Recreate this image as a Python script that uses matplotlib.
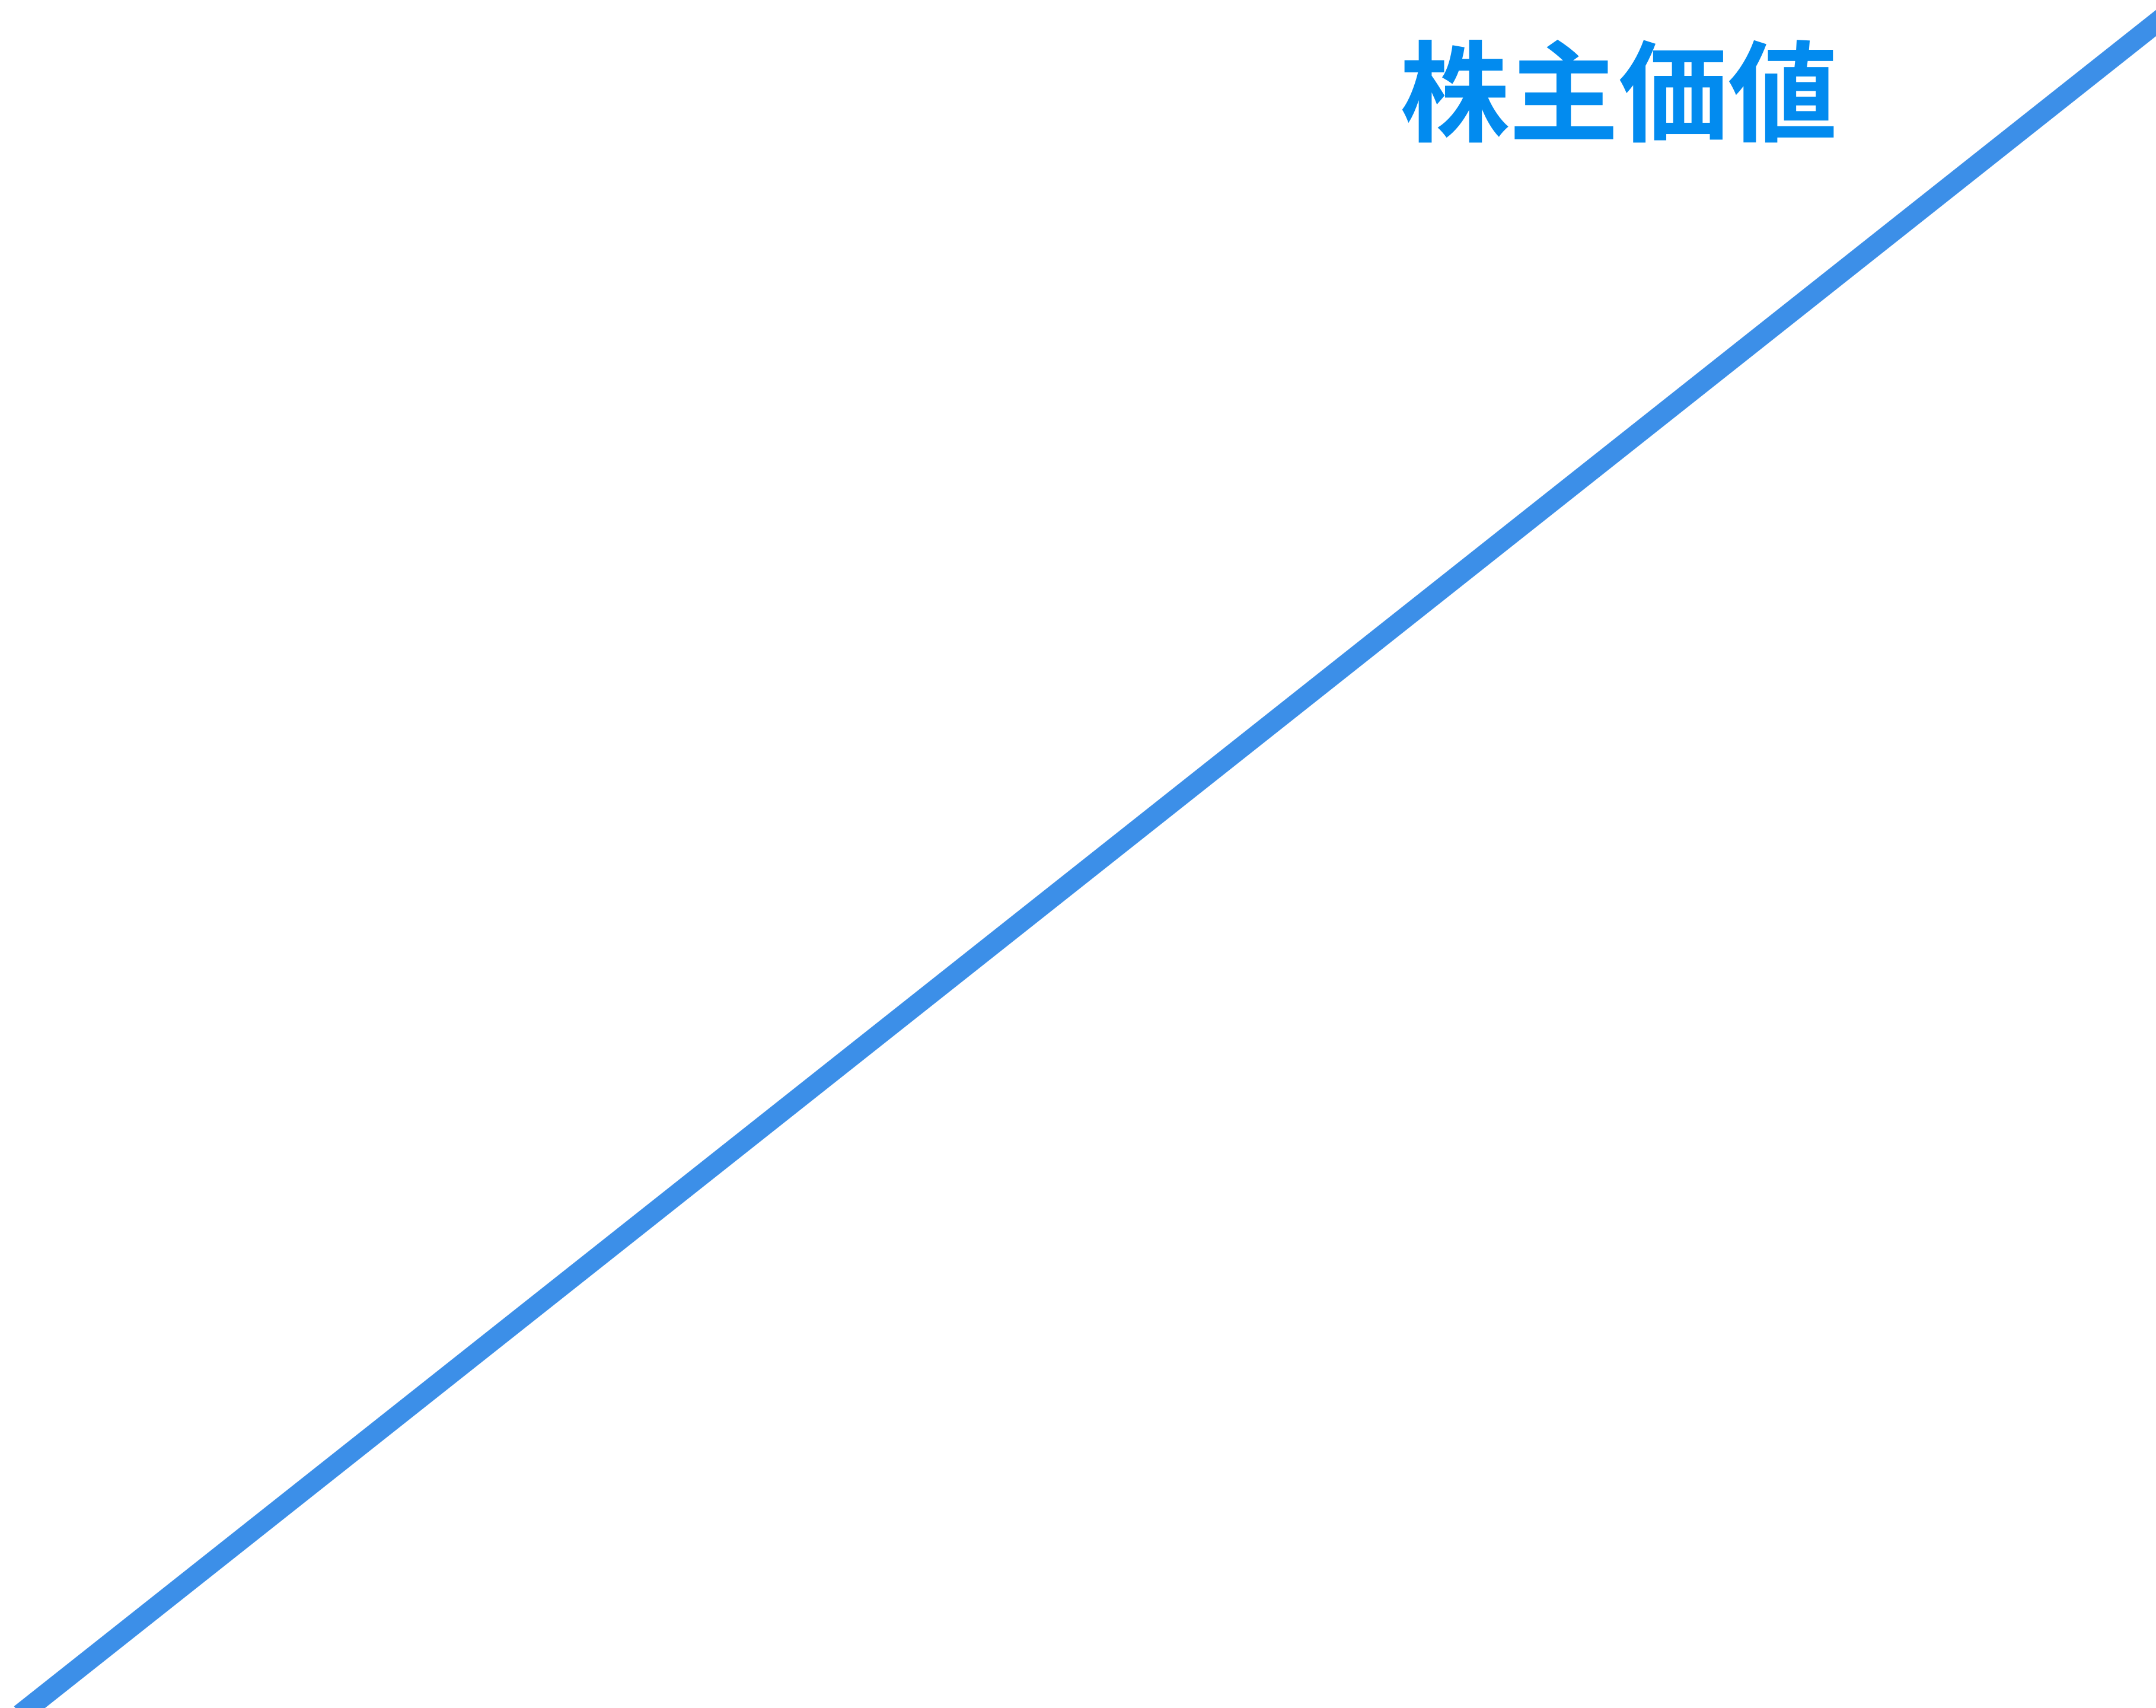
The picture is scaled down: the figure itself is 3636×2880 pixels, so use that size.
import matplotlib
matplotlib.use("Agg")
import matplotlib.pyplot as plt

# Data
x_values = [0, 10]
y_values = [0, 10]
title_text = "株主価値"

W, H, DPI = 3637, 2880, 100

fig = plt.figure(figsize=(W / DPI, H / DPI), dpi=DPI)
ax = fig.add_axes([0, 0, 1, 1])
ax.plot(x_values, y_values, color="#3C8FE8", linewidth=25, solid_capstyle="projecting")
ax.set_xlim(-0.1337, 10.0)
ax.set_ylim(0.0, 10.134)
ax.axis("off")

fig.text(2730 / W, 1 - 170 / H, title_text, ha="center", va="center",
         fontsize=133, fontweight="bold", color="#028BEF",
         family=["Noto Sans CJK JP", "DejaVu Sans"])

fig.savefig("out.png", dpi=DPI, facecolor="white")
